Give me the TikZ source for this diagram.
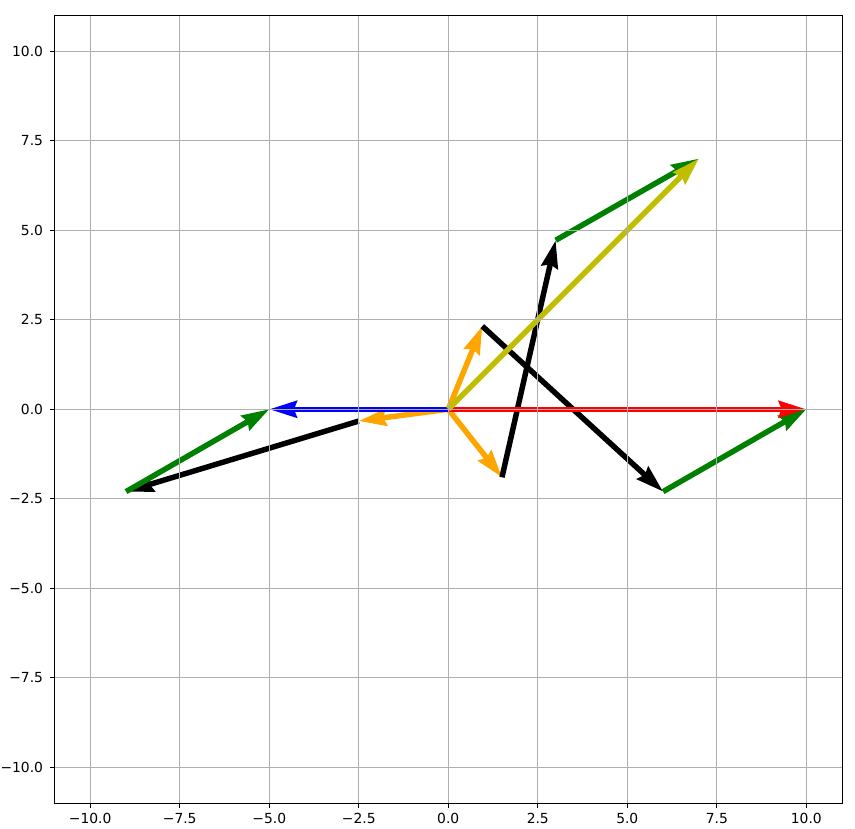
\documentclass[tikz,border=0pt]{standalone}
\usepackage{fontspec}
\setmainfont{DejaVu Sans}
\usetikzlibrary{arrows.meta}
\definecolor{mplgreen}{rgb}{0,0.5,0}
\definecolor{mplyellow}{rgb}{0.75,0.75,0}
\definecolor{mplorange}{HTML}{FFA500}
\definecolor{gridgray}{HTML}{B0B0B0}

\begin{document}
\begin{tikzpicture}[x=26.85pt,y=26.85pt,
  vec/.style={line width=4.1pt,color=#1,
    -{Stealth[length=20.6pt,width=12.4pt,inset=2.1pt]}},
  gridline/.style={gridgray,line width=0.83pt},
  tickline/.style={black,line width=0.83pt},
  ticklabel/.style={inner sep=0pt,font=\fontsize{10.4pt}{12pt}\selectfont}]
  \useasboundingbox (-12.52,-11.72) rectangle (11.36,11.43);

  \coordinate (O) at (0,0);
  \coordinate (R) at (10,0);
  \coordinate (B) at (-5,0);
  \coordinate (Y) at (7,7);
  \coordinate (P1) at (0.95,2.32);
  \coordinate (Q1) at (6,-2.3);
  \coordinate (P2) at (-2.5,-0.33);
  \coordinate (Q2) at (-9,-2.3);
  \coordinate (P3) at (1.5,-1.9);
  \coordinate (Q3) at (3,4.72);

  % Ba bước cam, đen, xanh lá nối đuôi nhau tới đầu mỗi vectơ tổng.
  \draw[vec=mplorange] (O) -- (P1);
  \draw[vec=mplorange] (O) -- (P2);
  \draw[vec=mplorange] (O) -- (P3);
  \draw[vec=black] (P1) -- (Q1);
  \draw[vec=black] (P2) -- (Q2);
  \draw[vec=black] (P3) -- (Q3);
  \draw[vec=mplgreen] (Q1) -- (R);
  \draw[vec=mplgreen] (Q2) -- (B);
  \draw[vec=mplgreen] (Q3) -- (Y);

  % Các vectơ tổng.
  \draw[vec=red] (O) -- (R);
  \draw[vec=blue] (O) -- (B);
  \draw[vec=mplyellow] (O) -- (Y);

  % Lưới nằm trên các mũi tên.
  \foreach \v in {-10,-7.5,...,10} {
    \draw[gridline] (\v,-11) -- (\v,11);
    \draw[gridline] (-11,\v) -- (11,\v);
  }
  \draw[tickline] (-11,-11) rectangle (11,11);

  \foreach \v/\t [count=\k] in {-10/−10.0,-7.5/−7.5,-5/−5.0,-2.5/−2.5,0/0.0,
      2.5/2.5,5/5.0,7.5/7.5,10/10.0} {
    \draw[tickline] (\v,-11) -- (\v,-11.137);
    \draw[tickline] (-11,\v) -- (-11.137,\v);
    \node[ticklabel,anchor=north] (xl\k) at (\v,-11.285) {\t};
    \node[ticklabel,anchor=east] (yl\k) at (-11.31,\v) {\t};
  }
\end{tikzpicture}
\end{document}
